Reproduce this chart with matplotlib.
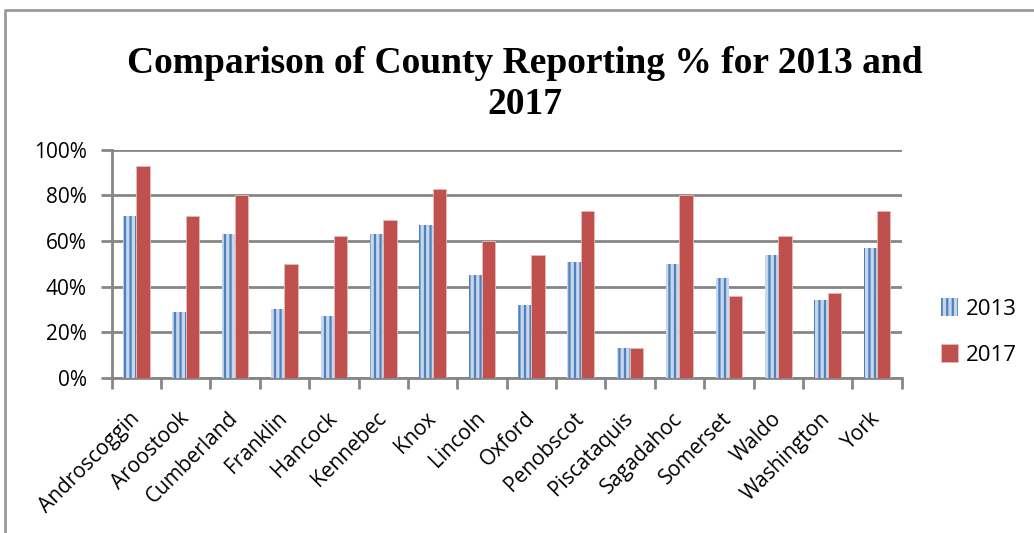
import matplotlib.pyplot as plt
import matplotlib.lines as mlines
import matplotlib.transforms as mtransforms
from matplotlib.ticker import PercentFormatter, FixedLocator
import numpy as np

# county names and reporting percentages
counties = ['Androscoggin', 'Aroostook', 'Cumberland', 'Franklin', 'Hancock',
            'Kennebec', 'Knox', 'Lincoln', 'Oxford', 'Penobscot', 'Piscataquis',
            'Sagadahoc', 'Somerset', 'Waldo', 'Washington', 'York']
pct_2013 = [71, 29, 63, 30, 27, 63, 67, 45, 32, 51, 13, 50, 44, 54, 34, 57]
pct_2017 = [93, 71, 80, 50, 62, 69, 83, 60, 54, 73, 13, 80, 36, 62, 37, 73]
yticks = [0, 20, 40, 60, 80, 100]

grid_col = '#868686'
blue = '#4F81BD'
red = '#C0504D'
tick_font = 'Open Sans'

plt.rcParams['hatch.linewidth'] = 1.6

fig = plt.figure(figsize=(10.34, 5.33), dpi=100)
ax = fig.add_axes([0.108, 0.291, 0.764, 0.428])

x = np.arange(len(counties))
w = 0.27
ax.bar(x - w / 2, pct_2013, w, facecolor='#C6D6EC', edgecolor=blue, hatch='|||',
       linewidth=0, label='2013', zorder=3)
ax.bar(x + w / 2, pct_2017, w, color=red, edgecolor='#E6B9B8', linewidth=0.6,
       label='2017', zorder=3)

ax.set_xlim(-0.5, len(counties) - 0.5)
ax.set_ylim(0, 100)
ax.yaxis.set_major_formatter(PercentFormatter(decimals=0))
ax.set_yticks(yticks)
ax.yaxis.grid(True, color=grid_col, linewidth=2, zorder=0)
ax.set_axisbelow(True)

ax.set_xticks(x)
ax.set_xticklabels(counties, rotation=45, ha='right', va='center',
                   rotation_mode='anchor', fontsize=15, family=tick_font)
# nudge labels so their ends sit just right of the tick
offset = mtransforms.ScaledTranslation(8 / 100, 0, fig.dpi_scale_trans)
for lbl in ax.get_xticklabels():
    lbl.set_transform(lbl.get_transform() + offset)
ax.xaxis.set_minor_locator(FixedLocator(np.arange(-0.5, len(counties), 1)))
ax.tick_params(axis='x', which='major', length=0, pad=27)
ax.tick_params(axis='x', which='minor', length=8, width=2, color=grid_col)
ax.tick_params(axis='y', length=8, width=2, color=grid_col, labelsize=15, pad=10)
for lbl in ax.get_yticklabels():
    lbl.set_family(tick_font)

for s in ['top', 'right']:
    ax.spines[s].set_visible(False)
for s in ['left', 'bottom']:
    ax.spines[s].set_color(grid_col)
    ax.spines[s].set_linewidth(2)

leg = ax.legend(loc='center left', bbox_to_anchor=(1.025, 0.2), frameon=False,
                prop={'family': tick_font, 'size': 16}, handlelength=0.75,
                handleheight=0.85, labelspacing=1.1, handletextpad=0.35)

fig.text(0.508, 1 - 84 / 533, 'Comparison of County Reporting % for 2013 and\n2017',
         ha='center', va='center', fontsize=27, fontweight='bold',
         family='Liberation Serif', linespacing=1.25)

# outer chart border (top and left edges visible)
bx, by = 5 / 1034, 1 - 10 / 533
fig.add_artist(mlines.Line2D([bx, bx, 1.0], [0.0, by, by], transform=fig.transFigure,
                             color='#9A9A9A', linewidth=2))

fig.savefig('out.png', dpi=100)
